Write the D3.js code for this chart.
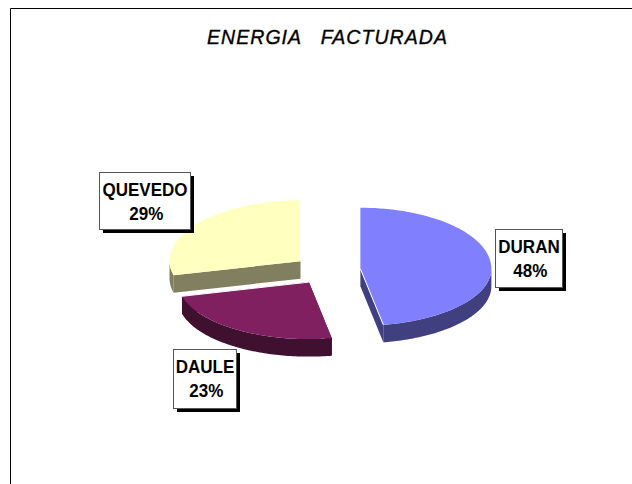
<!DOCTYPE html>
<html><head><meta charset="utf-8">
<script src="https://cdn.jsdelivr.net/npm/d3@7"></script>
<style>html,body{margin:0;padding:0;background:#fff;overflow:hidden}svg{display:block}</style>
</head><body><svg id="c" width="632" height="484"></svg>
<script>
const categories = ["DURAN", "DAULE", "QUEVEDO"];
const shares = [47.2, 23.8, 29];
const percentLabels = ["48%", "23%", "29%"];
const topColors = ["#8080ff", "#802060", "#ffffc0"];
const wallColors = ["#404080", "#401030", "#808060"];
const labelBoxes = [[495, 229, 67, 58], [173, 349, 63, 59], [99, 172, 91, 57]];

const svg = d3.select("#c");
const rx = 131, ryBack = 61, ryFront = 57, depth = 17.5, cx = 327, cy = 270, explode = 33.5, explodeTilt = 0.43;

svg.append("path").attr("d", "M10.5,484V8.5H632").attr("fill", "none").attr("stroke", "#000").attr("stroke-width", 1);
svg.append("text").attr("x", 327.5).attr("y", 44).attr("text-anchor", "middle")
  .attr("font-family", "Liberation Sans").attr("font-style", "italic").attr("font-size", 19.5)
  .attr("stroke", "#000").attr("stroke-width", 0.35)
  .style("letter-spacing", "1.05px").style("white-space", "pre")
  .text("ENERGIA   FACTURADA");

const pie = d3.pie().sort(null)(shares);
const pt = (c, a) => {
  const k = Math.cos(a);
  return [c[0] + rx * Math.sin(a), c[1] - (k > 0 ? ryBack : ryFront) * k];
};
const sweep = (a0, a1) => d3.range(0, 81).map(k => a0 + (a1 - a0) * k / 80);

pie.forEach((d, i) => {
  const mid = (d.startAngle + d.endAngle) / 2;
  const c = [cx + explode * Math.sin(mid), cy - explode * explodeTilt * Math.cos(mid)];
  const g = svg.append("g");
  [d.startAngle, d.endAngle].forEach(a => {
    const p = pt(c, a);
    g.append("path").attr("fill", wallColors[i])
      .attr("d", d3.line()([c, p, [p[0], p[1] + depth], [c[0], c[1] + depth]]) + "Z");
  });
  const a0 = Math.max(d.startAngle, Math.PI / 2), a1 = Math.min(d.endAngle, 3 * Math.PI / 2);
  if (a1 > a0) {
    const upper = sweep(a0, a1).map(a => pt(c, a));
    const lower = upper.map(p => [p[0], p[1] + depth]).reverse();
    g.append("path").attr("fill", wallColors[i]).attr("d", d3.line()(upper.concat(lower)) + "Z");
  }
  g.append("path").attr("fill", topColors[i])
    .attr("d", d3.line()([c].concat(sweep(d.startAngle, d.endAngle).map(a => pt(c, a)))) + "Z");
  g.append("path").attr("fill", "none").attr("stroke", "#fff").attr("stroke-width", 1)
    .attr("d", d3.line()([c, pt(c, d.endAngle)]));
});

categories.forEach((name, i) => {
  const [x, y, w, h] = labelBoxes[i];
  svg.append("rect").attr("x", x + 4).attr("y", y + 4).attr("width", w).attr("height", h).attr("fill", "#000");
  svg.append("rect").attr("x", x + .5).attr("y", y + .5).attr("width", w).attr("height", h)
    .attr("fill", "#fff").attr("stroke", "#555").attr("stroke-width", 1);
  const t = svg.append("text").attr("text-anchor", "middle").attr("font-family", "Liberation Sans")
    .attr("font-weight", "bold").attr("font-size", 18.5).attr("fill", "#000")
    .attr("transform", `translate(${x + w / 2 + .5},${y}) scale(.92,1)`);
  t.append("tspan").attr("x", 0).attr("y", 24).text(name);
  t.append("tspan").attr("x", 1.5).attr("y", 48).text(percentLabels[i]);
});
</script></body></html>
